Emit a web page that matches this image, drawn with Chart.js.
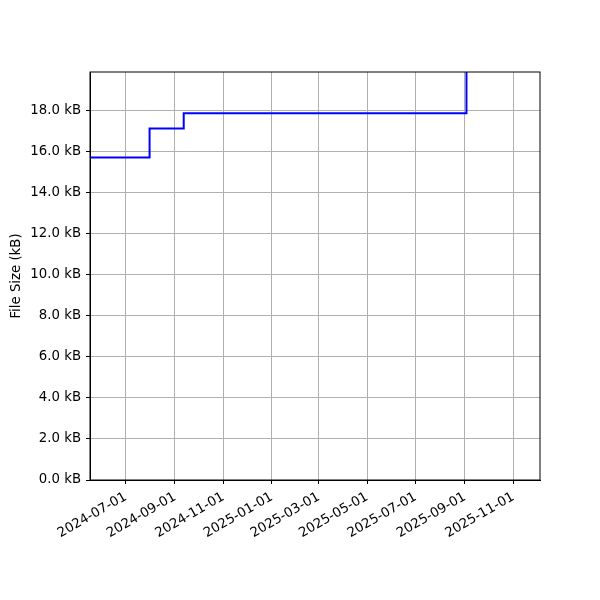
<!DOCTYPE html>
<html>
<head>
<meta charset="utf-8">
<script src="https://cdn.jsdelivr.net/npm/chart.js@4"></script>
<style>
  html, body { margin: 0; padding: 0; background: #fff; }
  #wrap { width: 600px; height: 600px; }
</style>
</head>
<body>
<div id="wrap"><canvas id="sizeChart" width="600" height="600"></canvas></div>
<script>
// file size history (kB)
const dates = ["2024-05-17", "2024-07-31", "2024-07-31", "2024-09-12", "2024-09-12", "2025-09-03", "2025-09-03", "2025-11-08"];
const sizes = [15.7, 15.7, 17.12, 17.12, 17.86, 17.86, 22.0, 22.0];
const xTickDates = ["2024-07-01", "2024-09-01", "2024-11-01", "2025-01-01", "2025-03-01",
                    "2025-05-01", "2025-07-01", "2025-09-01", "2025-11-01"];
const yTicks = [0, 2, 4, 6, 8, 10, 12, 14, 16, 18];

const toMs = (d) => Date.parse(d + "T00:00:00Z");
const xMin = toMs("2024-05-17");
const xMax = toMs("2025-12-04") + 14 * 3600 * 1000;

const points = dates.map((d, i) => ({ x: toMs(d), y: sizes[i] }));

const font = { family: "DejaVu Sans", size: 13.3 };

const frame = {
  id: "frame",
  afterDraw(chart) {
    const { ctx, chartArea: a } = chart;
    ctx.save();
    ctx.strokeStyle = "#000";
    ctx.lineWidth = 1;
    ctx.strokeRect(a.left, a.top, a.right - a.left, a.bottom - a.top);
    ctx.restore();
  },
};

new Chart(document.getElementById("sizeChart"), {
  type: "line",
  data: {
    datasets: [{
      data: points,
      borderColor: "#0000ff",
      borderWidth: 2,
      pointRadius: 0,
      tension: 0,
      fill: false,
    }],
  },
  options: {
    responsive: false,
    animation: false,
    layout: { padding: { top: 72, right: 60, left: 0, bottom: 0 } },
    plugins: { legend: { display: false }, tooltip: { enabled: false } },
    scales: {
      x: {
        type: "linear",
        min: xMin,
        max: xMax,
        afterBuildTicks: (s) => { s.ticks = xTickDates.map((d) => ({ value: toMs(d) })); },
        afterFit: (s) => { s.height = 120; },
        ticks: {
          autoSkip: false,
          minRotation: 30,
          maxRotation: 30,
          padding: 5,
          color: "#000",
          font,
          callback: (v) => new Date(v).toISOString().slice(0, 10),
        },
        grid: { color: "#b0b0b0", lineWidth: 1, tickLength: 4, tickColor: "#000", tickWidth: 1 },
        border: { color: "#000", width: 1 },
      },
      y: {
        min: 0,
        max: 19.87,
        afterBuildTicks: (s) => { s.ticks = yTicks.map((v) => ({ value: v })); },
        afterFit: (s) => { s.width = 90; },
        ticks: {
          padding: 5,
          color: "#000",
          font,
          callback: (v) => v.toFixed(1) + " kB",
        },
        grid: { color: "#b0b0b0", lineWidth: 1, tickLength: 4, tickColor: "#000", tickWidth: 1 },
        border: { color: "#000", width: 1 },
        title: { display: true, text: "File Size (kB)", color: "#000", font, padding: { top: 9, bottom: 4 } },
      },
    },
  },
  plugins: [frame],
});
</script>
</body>
</html>
